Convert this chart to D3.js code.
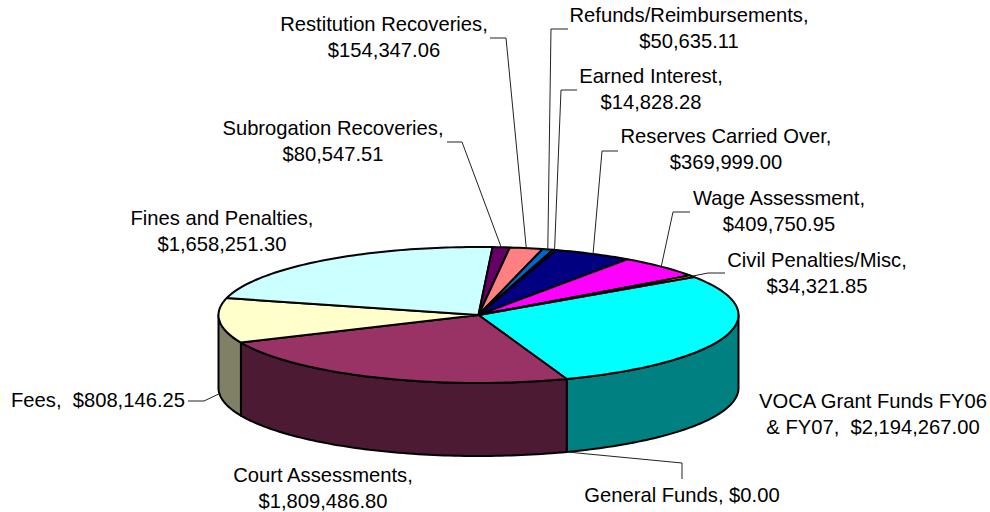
<!DOCTYPE html>
<html>
<head>
<meta charset="utf-8">
<script src="https://cdn.jsdelivr.net/npm/d3@7"></script>
<style>
  html, body { margin: 0; padding: 0; background: #fff; }
  text { font-family: "Liberation Sans", Arial, sans-serif; font-size: 20.2px; fill: #000; white-space: pre; }
</style>
</head>
<body>
<script>
// slices in drawing order, clockwise
var names = ["VOCA Grant Funds FY06 & FY07", "General Funds", "Court Assessments", "Fees",
    "Fines and Penalties", "Subrogation Recoveries", "Restitution Recoveries",
    "Refunds/Reimbursements", "Earned Interest", "Reserves Carried Over",
    "Wage Assessment", "Civil Penalties/Misc"];
var values = [2194267.00, 0.00, 1809486.80, 808146.25, 1658251.30, 80547.51, 154347.06,
    50635.11, 14828.28, 369999.00, 409750.95, 34321.85];
var topColors = ["#00ffff", "#ff0000", "#993366", "#ffffcc", "#ccffff", "#660066", "#ff8080",
    "#0066cc", "#ccccff", "#000080", "#ff00ff", "#ffff00"];
var labelLines = [
    ["VOCA Grant Funds FY06", "& FY07,  $2,194,267.00"],
    ["General Funds, $0.00"],
    ["Court Assessments,", "$1,809,486.80"],
    ["Fees,  $808,146.25"],
    ["Fines and Penalties,", "$1,658,251.30"],
    ["Subrogation Recoveries,", "$80,547.51"],
    ["Restitution Recoveries,", "$154,347.06"],
    ["Refunds/Reimbursements,", "$50,635.11"],
    ["Earned Interest,", "$14,828.28"],
    ["Reserves Carried Over,", "$369,999.00"],
    ["Wage Assessment,", "$409,750.95"],
    ["Civil Penalties/Misc,", "$34,321.85"]
];

// layout of the labels: centre x, first baseline y, leader bend points
var labelPos = [
    {x: 873, y: 408, leader: null},
    {x: 682, y: 502, leader: [[682, 463], [682, 479]], wall: true},
    {x: 323, y: 482, leader: null},
    {x: 98, y: 407, leader: [[204, 401], [188, 401]], wall: true},
    {x: 222, y: 225, leader: null},
    {x: 333, y: 135, leader: [[462, 142], [447, 142]]},
    {x: 384, y: 31, leader: [[506, 38], [490, 38]]},
    {x: 689, y: 22, leader: [[551, 29], [568, 29]]},
    {x: 651, y: 83, leader: [[561, 90], [577, 90]]},
    {x: 726, y: 143, leader: [[602, 151], [618, 151]]},
    {x: 779, y: 205, leader: [[673, 212], [690, 212]]},
    {x: 817, y: 267, leader: [[708, 273], [725, 273]]}
];

var width = 990, height = 512;
var cx = 478.5, cy = 315, rx = 260, ry = 68, depth = 73;
var startDeg = 56;

var svg = d3.select("body").append("svg")
    .attr("width", width)
    .attr("height", height)
    .style("display", "block");

var pie = d3.pie().sort(null)
    .startAngle(startDeg * Math.PI / 180)
    .endAngle((startDeg + 360) * Math.PI / 180);
var arcs = pie(values);

// the flattened circle: angle is clockwise from north
var x = d3.scaleLinear().domain([-1, 1]).range([cx - rx, cx + rx]);
var y = d3.scaleLinear().domain([-1, 1]).range([cy - ry, cy + ry]);
function pt(a, drop) {
    return [x(Math.sin(a)), y(-Math.cos(a)) + (drop || 0)];
}
function rimPoints(a0, a1, drop) {
    var n = Math.max(2, Math.ceil(Math.abs(a1 - a0) / 0.02));
    return d3.range(n + 1).map(function(i) { return pt(a0 + (a1 - a0) * i / n, drop); });
}
function shade(c) {
    var r = d3.rgb(c);
    return d3.rgb(r.r / 2, r.g / 2, r.b / 2).toString();
}
var line = d3.line();

// walls only show on the near half of the disc
var nearStart = Math.PI / 2, nearEnd = Math.PI * 3 / 2;
arcs.forEach(function(d, i) {
    var a0 = Math.max(d.startAngle, nearStart), a1 = Math.min(d.endAngle, nearEnd);
    if (d.value === 0 || a1 <= a0) return;
    var outline = rimPoints(a0, a1, 0).concat(rimPoints(a1, a0, depth));
    svg.append("path")
        .attr("d", line(outline) + "Z")
        .attr("fill", shade(topColors[i]))
        .attr("stroke", "#000")
        .attr("stroke-width", 2)
        .attr("stroke-linejoin", "round");
});

// top face
arcs.forEach(function(d, i) {
    if (d.value === 0) return;
    var outline = [[cx, cy]].concat(rimPoints(d.startAngle, d.endAngle, 0));
    svg.append("path")
        .attr("d", line(outline) + "Z")
        .attr("fill", topColors[i])
        .attr("stroke", "#000")
        .attr("stroke-width", 2)
        .attr("stroke-linejoin", "round");
});

// leader lines
labelPos.forEach(function(p, i) {
    if (!p.leader) return;
    var mid = (arcs[i].startAngle + arcs[i].endAngle) / 2;
    var from = pt(mid, p.wall ? depth : 0);
    svg.append("path")
        .attr("d", line([from].concat(p.leader)))
        .attr("fill", "none")
        .attr("stroke", "#222")
        .attr("stroke-width", 1);
});

// labels
labelLines.forEach(function(lines, i) {
    var t = svg.append("text").attr("text-anchor", "middle");
    lines.forEach(function(s, j) {
        t.append("tspan")
            .attr("x", labelPos[i].x)
            .attr("y", labelPos[i].y + j * 26)
            .text(s);
    });
});
</script>
</body>
</html>
